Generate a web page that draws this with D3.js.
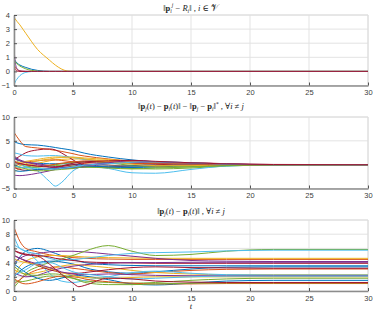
<!DOCTYPE html>
<html lang="en">
<head>
<meta charset="UTF-8">
<title>Formation errors</title>
<script src="https://cdn.jsdelivr.net/npm/d3@7"></script>
<style>
    body { margin: 0; background: #fff; }
    svg { display: block; }
    .tick text { font-family: "Liberation Sans", Arial, sans-serif; font-size: 7.5px; fill: #404040; }
    .ttl { font-family: "Liberation Serif", "DejaVu Serif", serif; font-size: 8.5px; fill: #222; }
</style>
</head>
<body>
<svg id="chart" width="374" height="313"></svg>
<script>
// MATLAB default line colours, cycled by line index
const colors = ["#0072BD", "#D95319", "#EDB120", "#7E2F8E", "#77AC30", "#4DBEEE", "#A2142F"];

const xTicks = [0, 5, 10, 15, 20, 25, 30];

// --- panel 1: ||p_i^j - R_i||, one line per agent
const t1 = [0, 0.1, 0.25, 0.5, 0.75, 1, 1.5, 2, 2.5, 3, 3.5, 4, 4.5, 5, 30];
const agentErr = [
    [0.9, 0.75, 0.6, 0.45, 0.35, 0.28, 0.15, 0.07, 0.02, 0, 0, 0, 0, 0, 0],
    [0.5, 0.3, 0.15, 0.03, 0.01, 0, 0, 0, 0, 0, 0, 0, 0, 0, 0],
    [3.85, 3.72, 3.55, 3.3, 3.0, 2.7, 2.1, 1.55, 1.15, 0.8, 0.45, 0.18, 0.03, 0, 0],
    [1.6, 0.7, 0.2, 0.04, 0.01, 0, 0, 0, 0, 0, 0, 0, 0, 0, 0],
    [0.8, 0.67, 0.55, 0.38, 0.27, 0.18, 0.07, 0.02, 0, 0, 0, 0, 0, 0, 0],
    [-1.0, -0.75, -0.55, -0.3, -0.15, -0.07, -0.01, 0, 0, 0, 0, 0, 0, 0, 0],
    [0.45, 0.15, 0.03, 0, 0, 0, 0, 0, 0, 0, 0, 0, 0, 0, 0]
];
const yTicks1 = [-1, 0, 1, 2, 3, 4];

// --- panels 2 and 3 share one time grid, one line per pair i != j
const t2 = [0, 0.5, 1, 2, 3, 3.5, 4, 5, 5.5, 6, 8, 10, 12, 15, 18, 22, 30];
const distErr = [
    [4.8, 4.4, 4.2, 4.1, 3.8, 3.6, 3.4, 3.0, 2.7, 2.4, 1.6, 1.0, 0.6, 0.3, 0.1, 0.02, 0],
    [6.8, 5.0, 3.8, 3.5, 3.2, 3.0, 2.8, 2.3, 2.0, 1.8, 1.2, 0.7, 0.3, 0.1, 0.03, 0, 0],
    [-1.5, -0.8, -0.3, 0.3, 0.8, 1.0, 1.1, 1.2, 1.2, 1.1, 0.9, 0.6, 0.3, 0.1, 0.02, 0, 0],
    [-2.2, -2.3, -2.2, -1.8, -1.3, -1.0, -0.7, -0.3, -0.1, 0.0, 0.3, 0.5, 0.6, 0.4, 0.15, 0.03, 0],
    [2.0, 0.2, -0.3, -0.5, -0.3, -0.2, -0.2, -0.3, -0.4, -0.5, -0.6, -0.8, -0.9, -0.7, -0.3, -0.05, 0],
    [0.5, 0.0, -0.4, -1.3, -3.5, -4.5, -3.8, -1.3, -0.6, -0.3, -0.8, -1.7, -1.8, -1.0, -0.3, -0.05, 0],
    [1.0, 1.8, 2.5, 3.1, 3.3, 3.1, 2.5, 1.0, 0.3, -0.2, -0.5, -0.2, 0.2, 0.4, 0.2, 0.05, 0],
    [1.5, 0.8, 0.5, 0.3, 0.2, 0.2, 0.2, 0.1, 0.0, -0.2, -0.5, -0.6, -0.5, -0.2, -0.05, 0, 0],
    [-0.5, 0.2, 0.5, 0.8, 1.0, 1.0, 0.9, 0.6, 0.4, 0.2, -0.1, -0.3, -0.3, -0.1, 0, 0, 0],
    [-0.8, -0.2, 0.2, 0.8, 1.2, 1.4, 1.5, 1.6, 1.5, 1.4, 1.1, 0.7, 0.4, 0.15, 0.03, 0, 0],
    [1.8, 1.0, 0.6, 0.2, -0.2, -0.4, -0.5, -0.6, -0.6, -0.5, 0.2, 0.5, 0.3, 0.0, -0.1, -0.02, 0],
    [-0.3, -0.6, -0.7, -0.5, -0.2, 0.0, 0.2, 0.5, 0.6, 0.6, 0.4, -0.2, -0.5, -0.4, -0.2, -0.05, 0],
    [2.5, 2.2, 1.9, 1.8, 1.9, 1.9, 1.8, 1.5, 1.3, 1.1, 0.5, 0.2, 0.1, 0.05, 0.0, 0, 0],
    [-0.6, -1.0, -1.2, -1.1, -0.8, -0.6, -0.4, 0.0, 0.2, 0.4, 0.6, 0.4, 0.1, -0.1, -0.05, 0, 0],
    [-1.2, -1.4, -1.3, -1.0, -0.9, -0.8, -0.7, -0.6, -0.5, -0.4, -0.3, -0.3, -0.2, -0.1, 0, 0, 0],
    [0.8, 0.3, 0.0, -0.3, -0.1, 0.1, 0.3, 0.6, 0.7, 0.8, 0.6, 0.3, 0.2, 0.1, 0.03, 0, 0],
    [0.3, 0.5, 0.7, 1.1, 1.5, 1.6, 1.6, 1.5, 1.4, 1.2, 0.6, 0.1, -0.2, -0.2, -0.05, 0, 0],
    [1.3, 0.8, 0.5, 0.0, -0.5, -0.7, -0.8, -0.7, -0.6, -0.3, 0.4, 0.8, 0.6, 0.3, 0.1, 0, 0],
    [0.0, -0.5, -0.9, -1.3, -1.2, -1.1, -1.0, -0.8, -0.6, -0.5, -0.7, -0.9, -0.7, -0.5, -0.2, -0.03, 0],
    [-0.2, -0.5, -0.6, -0.8, -0.9, -0.9, -0.8, -0.5, -0.3, -0.1, 0.2, 0.5, 0.6, 0.4, 0.1, 0, 0],
    [0.5, 0.2, 0.0, -0.3, -0.5, -0.5, -0.3, 0.3, 0.5, 0.6, 0.8, 0.9, 0.7, 0.4, 0.15, 0.03, 0]
];
const yTicks2 = [-5, 0, 5, 10];

const dist = [
    [3.5, 4.8, 5.6, 6.0, 5.6, 5.3, 5.0, 4.4, 4.2, 4.0, 3.7, 3.6, 3.55, 3.55, 3.55, 3.55, 3.55],
    [9.0, 7.0, 6.0, 5.5, 5.1, 5.0, 4.9, 4.7, 4.65, 4.6, 4.5, 4.45, 4.45, 4.45, 4.45, 4.45, 4.45],
    [2.0, 3.5, 4.2, 4.8, 5.0, 5.0, 5.0, 4.9, 4.85, 4.8, 4.7, 4.65, 4.6, 4.6, 4.6, 4.6, 4.6],
    [4.0, 4.6, 5.0, 5.3, 5.5, 5.55, 5.6, 5.6, 5.55, 5.5, 5.2, 4.9, 4.6, 4.3, 4.2, 4.15, 4.15],
    [0.5, 1.5, 2.5, 3.4, 4.0, 4.2, 4.5, 5.0, 5.3, 5.6, 6.4, 5.6, 5.0, 5.15, 5.6, 5.85, 5.85],
    [7.7, 6.0, 5.6, 5.2, 4.6, 4.4, 4.3, 4.4, 4.5, 4.6, 5.0, 5.3, 5.4, 5.5, 5.65, 5.75, 5.75],
    [5.7, 5.4, 5.2, 5.0, 4.8, 4.6, 4.5, 4.3, 4.2, 4.1, 4.0, 3.95, 3.9, 3.9, 3.9, 3.9, 3.9],
    [2.0, 2.8, 3.4, 4.0, 4.2, 4.2, 4.1, 3.8, 3.6, 3.3, 2.7, 2.5, 2.7, 3.1, 3.35, 3.4, 3.4],
    [1.0, 1.6, 2.2, 3.0, 3.3, 3.4, 3.4, 3.2, 3.1, 3.0, 2.6, 2.4, 2.6, 2.9, 3.05, 3.1, 3.1],
    [3.0, 2.6, 2.4, 2.6, 3.0, 3.3, 3.5, 3.7, 3.7, 3.6, 3.3, 2.9, 2.6, 2.4, 2.3, 2.3, 2.3],
    [2.5, 2.2, 2.0, 2.2, 2.8, 3.0, 3.2, 3.5, 3.6, 3.7, 3.9, 4.0, 4.0, 4.05, 4.05, 4.05, 4.05],
    [1.5, 1.3, 1.4, 1.8, 2.1, 2.1, 2.0, 1.8, 1.6, 1.4, 1.2, 1.1, 1.2, 1.5, 1.7, 1.8, 1.8],
    [6.5, 6.0, 5.6, 4.2, 2.5, 1.8, 1.4, 1.2, 1.3, 1.5, 2.0, 2.6, 2.8, 2.5, 2.3, 2.25, 2.25],
    [5.0, 4.6, 4.2, 3.6, 3.0, 2.8, 2.6, 2.5, 2.5, 2.6, 3.0, 3.3, 3.4, 3.3, 3.25, 3.2, 3.2],
    [3.8, 3.2, 2.6, 1.8, 1.5, 1.6, 1.8, 2.2, 2.2, 2.1, 1.6, 1.0, 0.85, 1.1, 1.4, 1.5, 1.5],
    [1.8, 1.2, 1.0, 1.3, 1.8, 2.0, 2.1, 2.0, 1.9, 1.7, 1.3, 1.1, 1.0, 1.0, 1.05, 1.05, 1.05],
    [4.5, 4.2, 4.0, 3.7, 3.2, 2.9, 2.6, 2.2, 2.0, 1.9, 1.8, 1.9, 2.0, 2.0, 2.0, 2.0, 2.0],
    [5.0, 4.6, 4.3, 3.8, 3.3, 3.0, 2.7, 2.4, 2.3, 2.3, 2.4, 2.3, 2.2, 2.15, 2.15, 2.15, 2.15],
    [3.5, 2.8, 2.3, 2.2, 2.4, 2.4, 2.3, 1.8, 1.5, 1.2, 0.9, 0.9, 1.0, 1.1, 1.15, 1.15, 1.15],
    [2.2, 2.6, 3.0, 3.9, 4.0, 3.8, 3.4, 2.7, 2.5, 2.4, 2.0, 1.7, 1.8, 2.0, 2.1, 2.1, 2.1],
    [5.7, 5.3, 5.1, 4.9, 3.8, 3.1, 2.4, 1.1, 0.6, 0.8, 1.8, 1.7, 1.4, 1.25, 1.2, 1.2, 1.2]
];
const yTicks3 = [0, 2, 4, 6, 8, 10];

const svg = d3.select("#chart");
const left = 14, right = 368;
const x = d3.scaleLinear().domain([0, 30]).range([left, right]);

function panel(id, top, bottom, yDomain, yTicks, tGrid, series, curve) {
    const y = d3.scaleLinear().domain(yDomain).range([bottom, top]);
    const g = svg.append("g");

    g.append("clipPath").attr("id", "clip" + id)
        .append("rect").attr("x", left).attr("y", top)
        .attr("width", right - left).attr("height", bottom - top);

    // grid
    g.selectAll(".gx").data(xTicks).enter().append("line")
        .attr("x1", d => x(d)).attr("x2", d => x(d))
        .attr("y1", top).attr("y2", bottom)
        .attr("stroke", "#e3e3e3").attr("stroke-width", 1);
    g.selectAll(".gy").data(yTicks).enter().append("line")
        .attr("x1", left).attr("x2", right)
        .attr("y1", d => y(d)).attr("y2", d => y(d))
        .attr("stroke", "#e3e3e3").attr("stroke-width", 1);
    // box top / right
    g.append("path")
        .attr("d", `M${left},${top}H${right}V${bottom}`)
        .attr("fill", "none").attr("stroke", "#dcdcdc").attr("stroke-width", 1);

    const line = d3.line()
        .x((d, i) => x(tGrid[i]))
        .y(d => y(d))
        .curve(curve);

    g.append("g").attr("clip-path", `url(#clip${id})`)
        .selectAll("path").data(series).enter().append("path")
        .attr("d", line)
        .attr("fill", "none")
        .attr("stroke", (d, i) => colors[i % colors.length])
        .attr("stroke-width", 1);

    const xAxis = d3.axisBottom(x).tickValues(xTicks).tickFormat(d3.format("d"))
        .tickSizeInner(-3).tickSizeOuter(0).tickPadding(5);
    const yAxis = d3.axisLeft(y).tickValues(yTicks).tickFormat(d3.format("d"))
        .tickSizeInner(-3).tickSizeOuter(0).tickPadding(4);

    const ax = g.append("g").attr("transform", `translate(0,${bottom})`).call(xAxis);
    const ay = g.append("g").attr("transform", `translate(${left},0)`).call(yAxis);
    [ax, ay].forEach(a => {
        a.select(".domain").attr("stroke", "#8c8c8c").attr("stroke-width", 1.6);
        a.selectAll(".tick line").attr("stroke", "#555").attr("stroke-width", 1);
    });
    ax.selectAll(".tick text").attr("dy", "0.6em");
    return g;
}

panel(1, 15, 85.5, [-1, 4], yTicks1, t1, agentErr, d3.curveMonotoneX);
panel(2, 117, 188.5, [-5, 10], yTicks2, t2, distErr, d3.curveMonotoneX);
panel(3, 220, 291, [0, 10], yTicks3, t2, dist, d3.curveMonotoneX);

// titles (math rendered with tspans)
function title(yPos, parts) {
    const tx = svg.append("text").attr("class", "ttl")
        .attr("x", (left + right) / 2).attr("y", yPos)
        .attr("text-anchor", "middle");
    parts.forEach(p => {
        const s = tx.append("tspan").text(p.t);
        if (p.b) s.attr("font-weight", "bold").attr("font-style", "normal");
        if (p.i) s.attr("font-style", "italic");
        if (p.sub) s.attr("font-size", "5.5px").attr("dy", p.sub);
        if (p.dy) s.attr("dy", p.dy);
    });
}

title(10.5, [
    {t: "\u2016"}, {t: "p", b: 1}, {t: "i", i: 1, sub: "2"}, {t: "j", i: 1, sub: "-6"},
    {t: " \u2212 ", dy: "4"}, {t: "R", i: 1}, {t: "i", i: 1, sub: "2"}, {t: "\u2016", dy: "-2"},
    {t: " , "}, {t: "i", i: 1}, {t: " \u2208 "}, {t: "\uD835\uDCB1"}
]);
title(108.5, [
    {t: "\u2016"}, {t: "p", b: 1}, {t: "j", i: 1, sub: "2"}, {t: "(", dy: "-2"}, {t: "t", i: 1}, {t: ") \u2212 "},
    {t: "p", b: 1}, {t: "i", i: 1, sub: "2"}, {t: "(", dy: "-2"}, {t: "t", i: 1}, {t: ")\u2016 \u2212 \u2016"},
    {t: "p", b: 1}, {t: "j", i: 1, sub: "2"}, {t: " \u2212 ", dy: "-2"}, {t: "p", b: 1}, {t: "i", i: 1, sub: "2"},
    {t: "\u2016", dy: "-2"}, {t: "*", sub: "-3"}, {t: " , \u2200", dy: "3"}, {t: "i", i: 1}, {t: " \u2260 "}, {t: "j", i: 1}
]);
title(213.5, [
    {t: "\u2016"}, {t: "p", b: 1}, {t: "j", i: 1, sub: "2"}, {t: "(", dy: "-2"}, {t: "t", i: 1}, {t: ") \u2212 "},
    {t: "p", b: 1}, {t: "i", i: 1, sub: "2"}, {t: "(", dy: "-2"}, {t: "t", i: 1}, {t: ")\u2016 , \u2200"},
    {t: "i", i: 1}, {t: " \u2260 "}, {t: "j", i: 1}
]);

svg.append("text").attr("class", "ttl")
    .attr("x", (left + right) / 2).attr("y", 309)
    .attr("text-anchor", "middle").attr("font-style", "italic")
    .text("t");
</script>
</body>
</html>
